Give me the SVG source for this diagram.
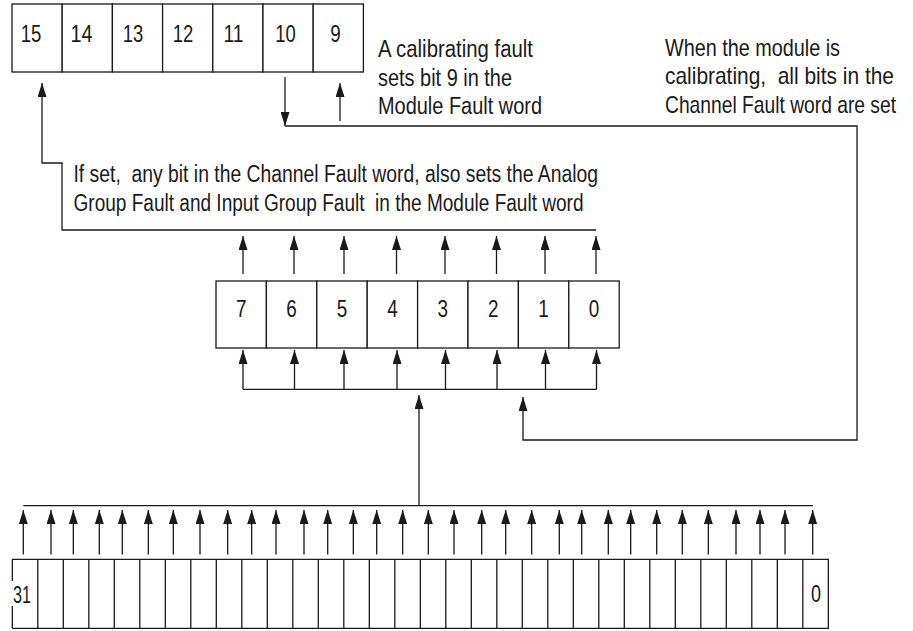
<svg xmlns="http://www.w3.org/2000/svg" width="913" height="631" viewBox="0 0 913 631">
<defs>
<style>
.cell{fill:#fff;stroke:#1a1a1a;stroke-width:1.3}
.ln{fill:none;stroke:#1a1a1a;stroke-width:1.3}
.num{font-family:"Liberation Sans Narrow","Liberation Sans",Arial,sans-serif;font-size:23px;fill:#1a1a1a;text-anchor:middle}
.txt{font-family:"Liberation Sans Narrow","Liberation Sans",Arial,sans-serif;font-size:23px;fill:#1a1a1a}
.arr{fill:none;stroke:#1a1a1a;stroke-width:1.3;marker-end:url(#ah)}
</style>
<marker id="ah" markerUnits="userSpaceOnUse" markerWidth="14" markerHeight="9" refX="14" refY="4.5" orient="auto">
<path d="M0,0 L14,4.5 L0,9 z" fill="#1a1a1a"/>
</marker>
</defs>
<rect width="913" height="631" fill="#fff"/>

<g id="module-fault-word">
<g id="mf-bit15"><rect class="cell" x="12" y="4" width="50.2" height="68"/><text class="num" x="31" y="42" textLength="20.6" lengthAdjust="spacingAndGlyphs">15</text></g>
<g id="mf-bit14"><rect class="cell" x="62.2" y="4" width="50.2" height="68"/><text class="num" x="81.5" y="42" textLength="22" lengthAdjust="spacingAndGlyphs">14</text></g>
<g id="mf-bit13"><rect class="cell" x="112.4" y="4" width="50.2" height="68"/><text class="num" x="133" y="42" textLength="20.5" lengthAdjust="spacingAndGlyphs">13</text></g>
<g id="mf-bit12"><rect class="cell" x="162.6" y="4" width="50.2" height="68"/><text class="num" x="183" y="42" textLength="20.5" lengthAdjust="spacingAndGlyphs">12</text></g>
<g id="mf-bit11"><rect class="cell" x="212.8" y="4" width="50.2" height="68"/><text class="num" x="233.5" y="42" textLength="20" lengthAdjust="spacingAndGlyphs">11</text></g>
<g id="mf-bit10"><rect class="cell" x="263" y="4" width="50.2" height="68"/><text class="num" x="285.5" y="42" textLength="20.5" lengthAdjust="spacingAndGlyphs">10</text></g>
<g id="mf-bit9"><rect class="cell" x="313.2" y="4" width="50.2" height="68"/><text class="num" x="335.5" y="42" textLength="10.5" lengthAdjust="spacingAndGlyphs">9</text></g>
</g>

<g id="note-calibrating-fault">
<text class="txt" x="378" y="57" textLength="155" lengthAdjust="spacingAndGlyphs">A calibrating fault</text>
<text class="txt" x="378" y="85.5" textLength="134" lengthAdjust="spacingAndGlyphs">sets bit 9 in the</text>
<text class="txt" x="378" y="114" textLength="164" lengthAdjust="spacingAndGlyphs">Module Fault word</text>
</g>

<g id="note-module-calibrating" transform="translate(665 0) scale(0.85 1)">
<text class="txt" x="0" y="56" textLength="205.9" lengthAdjust="spacingAndGlyphs">When the module is</text>
<text class="txt" x="0" y="84.5" textLength="269.4" lengthAdjust="spacingAndGlyphs" xml:space="preserve">calibrating,  all bits in the</text>
<text class="txt" x="0" y="113" textLength="271.8" lengthAdjust="spacingAndGlyphs">Channel Fault word are set</text>
</g>

<g id="note-channel-fault">
<text class="txt" x="73.5" y="182" textLength="524.5" lengthAdjust="spacingAndGlyphs" xml:space="preserve">If set,  any bit in the Channel Fault word, also sets the Analog</text>
<text class="txt" x="73.5" y="210.5" textLength="510" lengthAdjust="spacingAndGlyphs" xml:space="preserve">Group Fault and Input Group Fault  in the Module Fault word</text>
</g>

<g id="channel-fault-word">
<g id="cf-bit7"><rect class="cell" x="216" y="281" width="50.4" height="67"/><text class="num" x="241.2" y="317" textLength="10.5" lengthAdjust="spacingAndGlyphs">7</text></g>
<g id="cf-bit6"><rect class="cell" x="266.4" y="281" width="50.4" height="67"/><text class="num" x="291.6" y="317" textLength="10.5" lengthAdjust="spacingAndGlyphs">6</text></g>
<g id="cf-bit5"><rect class="cell" x="316.8" y="281" width="50.4" height="67"/><text class="num" x="342" y="317" textLength="10.5" lengthAdjust="spacingAndGlyphs">5</text></g>
<g id="cf-bit4"><rect class="cell" x="367.2" y="281" width="50.4" height="67"/><text class="num" x="392.4" y="317" textLength="10.5" lengthAdjust="spacingAndGlyphs">4</text></g>
<g id="cf-bit3"><rect class="cell" x="417.6" y="281" width="50.4" height="67"/><text class="num" x="442.8" y="317" textLength="10.5" lengthAdjust="spacingAndGlyphs">3</text></g>
<g id="cf-bit2"><rect class="cell" x="468" y="281" width="50.4" height="67"/><text class="num" x="493.2" y="317" textLength="10.5" lengthAdjust="spacingAndGlyphs">2</text></g>
<g id="cf-bit1"><rect class="cell" x="518.4" y="281" width="50.4" height="67"/><text class="num" x="543.6" y="317" textLength="10.5" lengthAdjust="spacingAndGlyphs">1</text></g>
<g id="cf-bit0"><rect class="cell" x="568.8" y="281" width="50.4" height="67"/><text class="num" x="594" y="317" textLength="10.5" lengthAdjust="spacingAndGlyphs">0</text></g>
</g>

<g id="channel-status-word">
<rect x="12.3" y="559.3" width="816" height="69" fill="#fff"/>
<path class="ln" d="M12.3,559.3 H828.3 V628.3 H12.3 M12.3,559.3 V581 M12.3,606 V628.3"/>
<path class="ln" d="M37.8,559.3V628.3 M63.3,559.3V628.3 M88.8,559.3V628.3 M114.3,559.3V628.3 M139.8,559.3V628.3 M165.3,559.3V628.3 M190.8,559.3V628.3 M216.3,559.3V628.3 M241.8,559.3V628.3 M267.3,559.3V628.3 M292.8,559.3V628.3 M318.3,559.3V628.3 M343.8,559.3V628.3 M369.3,559.3V628.3 M394.8,559.3V628.3 M420.3,559.3V628.3 M445.8,559.3V628.3 M471.3,559.3V628.3 M496.8,559.3V628.3 M522.3,559.3V628.3 M547.8,559.3V628.3 M573.3,559.3V628.3 M598.8,559.3V628.3 M624.3,559.3V628.3 M649.8,559.3V628.3 M675.3,559.3V628.3 M700.8,559.3V628.3 M726.3,559.3V628.3 M751.8,559.3V628.3 M777.3,559.3V628.3 M802.8,559.3V628.3"/>
<text class="num" x="22" y="603" textLength="18" lengthAdjust="spacingAndGlyphs">31</text>
<text class="num" x="816" y="602" textLength="10" lengthAdjust="spacingAndGlyphs">0</text>
</g>

<g id="connectors">
<path class="arr" d="M596,230 H62 V163 H42 V83"/>
<path class="arr" d="M340,121 V83"/>
<path class="arr" d="M285,77 V126"/>
<path class="arr" d="M285,126 H857 V440 H523 V397"/>
<path class="arr" d="M243,274V236"/><path class="arr" d="M294,274V236"/><path class="arr" d="M344,274V236"/><path class="arr" d="M396.5,274V236"/>
<path class="arr" d="M445,274V236"/><path class="arr" d="M496.5,274V236"/><path class="arr" d="M545,274V236"/><path class="arr" d="M596,274V236"/>
<path class="ln" d="M243,389.3 H596.5"/>
<path class="arr" d="M243,389.3V350"/><path class="arr" d="M294.5,389.3V350"/><path class="arr" d="M344,389.3V350"/><path class="arr" d="M397,389.3V350"/>
<path class="arr" d="M445.5,389.3V350"/><path class="arr" d="M497,389.3V350"/><path class="arr" d="M545.5,389.3V350"/><path class="arr" d="M596.5,389.3V350"/>
<path class="arr" d="M419,505.7 V395"/>
<path class="ln" d="M23.3,505.7 H813"/>
<path class="arr" d="M23.3,554.5V510"/><path class="arr" d="M51,554.5V510"/><path class="arr" d="M73.3,554.5V510"/><path class="arr" d="M99.3,554.5V510"/>
<path class="arr" d="M122.3,554.5V510"/><path class="arr" d="M148.3,554.5V510"/><path class="arr" d="M173.3,554.5V510"/><path class="arr" d="M200,554.5V510"/>
<path class="arr" d="M227.7,554.5V510"/><path class="arr" d="M251.7,554.5V510"/><path class="arr" d="M276,554.5V510"/><path class="arr" d="M304,554.5V510"/>
<path class="arr" d="M327.7,554.5V510"/><path class="arr" d="M353.3,554.5V510"/><path class="arr" d="M376.7,554.5V510"/><path class="arr" d="M402.7,554.5V510"/>
<path class="arr" d="M428.3,554.5V510"/><path class="arr" d="M454,554.5V510"/><path class="arr" d="M481.7,554.5V510"/><path class="arr" d="M505.7,554.5V510"/>
<path class="arr" d="M531.7,554.5V510"/><path class="arr" d="M559.3,554.5V510"/><path class="arr" d="M581.7,554.5V510"/><path class="arr" d="M608.3,554.5V510"/>
<path class="arr" d="M630.7,554.5V510"/><path class="arr" d="M656.7,554.5V510"/><path class="arr" d="M682.3,554.5V510"/><path class="arr" d="M708.3,554.5V510"/>
<path class="arr" d="M736,554.5V510"/><path class="arr" d="M760,554.5V510"/><path class="arr" d="M785,554.5V510"/><path class="arr" d="M812.7,554.5V510"/>
</g>
</svg>
